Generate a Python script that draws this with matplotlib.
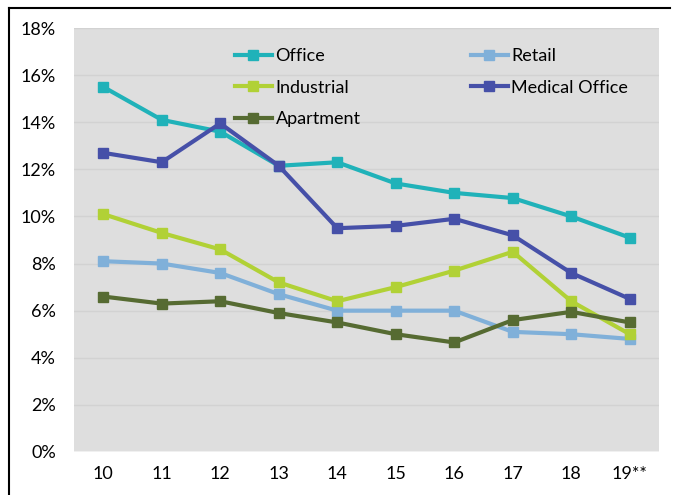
import matplotlib.pyplot as plt
from matplotlib.lines import Line2D

years = ["10", "11", "12", "13", "14", "15", "16", "17", "18", "19**"]

office = [15.5, 14.1, 13.6, 12.15, 12.3, 11.4, 11.0, 10.78, 10.0, 9.1]
retail = [8.1, 8.0, 7.6, 6.7, 6.0, 6.0, 6.0, 5.1, 5.0, 4.8]
industrial = [10.1, 9.3, 8.6, 7.2, 6.4, 7.0, 7.7, 8.5, 6.4, 5.0]
medical = [12.7, 12.3, 13.95, 12.15, 9.5, 9.6, 9.9, 9.2, 7.6, 6.5]
apartment = [6.6, 6.3, 6.4, 5.9, 5.5, 5.0, 4.65, 5.6, 5.95, 5.5]

series = [
	("Office", office, "#20b2b9"),
	("Retail", retail, "#80b0d9"),
	("Industrial", industrial, "#b1d136"),
	("Medical Office", medical, "#4650a8"),
	("Apartment", apartment, "#566b32"),
]

plt.rcParams["font.family"] = ["Lato", "DejaVu Sans"]

fig = plt.figure(figsize=(6.75, 4.95), dpi=100)
ax = fig.add_axes([74 / 675, 1 - 452 / 495, 585 / 675, 424 / 495])
ax.set_facecolor("#dedede")

x = list(range(len(years)))
for name, vals, color in series:
	ax.plot(x, vals, color=color, linewidth=3, marker="s", markersize=7,
			label=name, zorder=3)

ax.set_xlim(-0.5, len(years) - 0.5)
ax.set_ylim(0, 18)
ax.set_yticks(range(0, 19, 2))
ax.set_yticklabels([f"{v}%" for v in range(0, 19, 2)], fontsize=13)
ax.set_xticks(x)
ax.set_xticklabels(years, fontsize=13)
ax.tick_params(length=0, pad=10)
ax.tick_params(axis="y", pad=13)
ax.grid(axis="y", color="#d2d2d2", linewidth=1)
ax.set_axisbelow(True)
for s in ax.spines.values():
	s.set_visible(False)
ax.axhline(0, color="#f0f0f0", linewidth=1.5, zorder=2)

# legend order: Office, Retail / Industrial, Medical Office / Apartment
handles = {}
for name, vals, color in series:
	handles[name] = Line2D([], [], color=color, linewidth=3, marker="s", markersize=7)
order = ["Office", "Industrial", "Apartment", "Retail", "Medical Office"]
leg = ax.legend([handles[n] for n in order], order, ncol=2, frameon=False,
				loc="upper left", bbox_to_anchor=(0.275, 0.952), fontsize=13,
				borderpad=0, borderaxespad=0,
				handlelength=2.05, handletextpad=0.2, columnspacing=6.1,
				labelspacing=0.85)

# outer frame of the original chart box
fig.add_artist(Line2D([9 / 675, 9 / 675], [0, 1 - 8 / 495], color="black",
					  linewidth=1.5, transform=fig.transFigure))
fig.add_artist(Line2D([9 / 675, 670 / 675], [1 - 8 / 495, 1 - 8 / 495], color="black",
					  linewidth=1.5, transform=fig.transFigure))

fig.savefig("out.png", dpi=100)
